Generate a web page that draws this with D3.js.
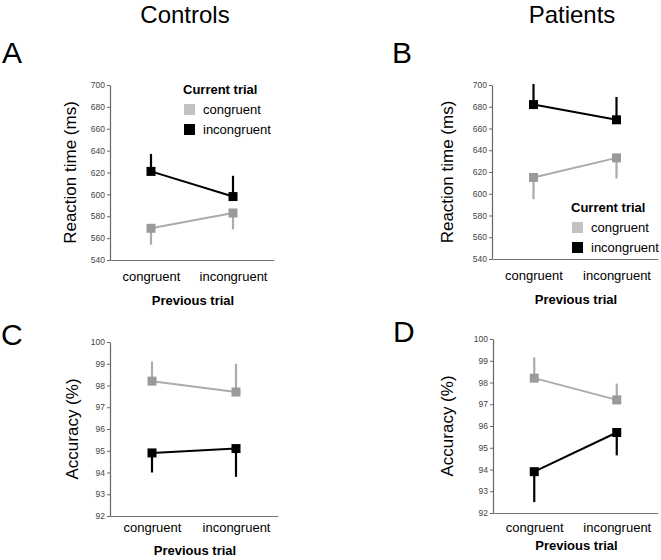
<!DOCTYPE html>
<html>
<head>
<meta charset="utf-8">
<script src="https://cdn.jsdelivr.net/npm/d3@7/dist/d3.min.js"></script>
<style>
  body { margin: 0; background: #fff; }
  svg { display: block; font-family: Arial, "Liberation Sans", sans-serif; }
</style>
</head>
<body>
<svg id="chart" width="661" height="560"></svg>
<script>
// ---------- DATA ----------
const previousTrial = ["congruent", "incongruent"];
const currentTrial = ["congruent", "incongruent"];

const rtTicks = [540, 560, 580, 600, 620, 640, 660, 680, 700];
const accTicks = [92, 93, 94, 95, 96, 97, 98, 99, 100];

// Controls, reaction time (ms)
const rtControlsCongruent = [569, 583];
const rtControlsCongruentErrEnd = [554, 568];
const rtControlsIncongruent = [621, 598];
const rtControlsIncongruentErrEnd = [637, 617];

// Patients, reaction time (ms)
const rtPatientsCongruent = [615, 633];
const rtPatientsCongruentErrEnd = [595, 614];
const rtPatientsIncongruent = [682, 668];
const rtPatientsIncongruentErrEnd = [701, 689];

// Controls, accuracy (%)
const accControlsCongruent = [98.2, 97.7];
const accControlsCongruentErrEnd = [99.1, 99.0];
const accControlsIncongruent = [94.9, 95.1];
const accControlsIncongruentErrEnd = [94.0, 93.8];

// Patients, accuracy (%)
const accPatientsCongruent = [98.2, 97.2];
const accPatientsCongruentErrEnd = [99.15, 97.95];
const accPatientsIncongruent = [93.9, 95.7];
const accPatientsIncongruentErrEnd = [92.5, 94.65];

// ---------- LAYOUT ----------
const svg = d3.select("#chart");
const GRAY_MARK = "#9a9a9a", GRAY_LINE = "#ababab", GRAY_LEG = "#c2c2c2", BLACK = "#000";

svg.append("text").attr("x", 185).attr("y", 23).attr("text-anchor", "middle")
  .attr("font-size", 24).text("Controls");
svg.append("text").attr("x", 572).attr("y", 23).attr("text-anchor", "middle")
  .attr("font-size", 24).text("Patients");

const panels = [
  { letter: "A", lx: 2, ly: 63, x0: 110, x1: 274, y0: 260, y1: 85, domain: [540, 700], ticks: rtTicks,
    ylabel: "Reaction time (ms)", ylx: 76, tickPad: 12, titleOff: 45,
    cong: rtControlsCongruent, congErr: rtControlsCongruentErrEnd,
    inc: rtControlsIncongruent, incErr: rtControlsIncongruentErrEnd,
    legend: { x: 183, y: 94 } },
  { letter: "B", lx: 392, ly: 63, x0: 492, x1: 658, y0: 259, y1: 85, domain: [540, 700], ticks: rtTicks,
    ylabel: "Reaction time (ms)", ylx: 453, tickPad: 12, titleOff: 45,
    cong: rtPatientsCongruent, congErr: rtPatientsCongruentErrEnd,
    inc: rtPatientsIncongruent, incErr: rtPatientsIncongruentErrEnd,
    legend: { x: 571, y: 212 } },
  { letter: "C", lx: 1, ly: 345, x0: 110, x1: 278, y0: 516, y1: 342, domain: [92, 100], ticks: accTicks,
    ylabel: "Accuracy (%)", ylx: 78, tickPad: 7, titleOff: 39,
    cong: accControlsCongruent, congErr: accControlsCongruentErrEnd,
    inc: accControlsIncongruent, incErr: accControlsIncongruentErrEnd },
  { letter: "D", lx: 393, ly: 342, x0: 493, x1: 658, y0: 513, y1: 339, domain: [92, 100], ticks: accTicks,
    ylabel: "Accuracy (%)", ylx: 453, tickPad: 10, titleOff: 37,
    cong: accPatientsCongruent, congErr: accPatientsCongruentErrEnd,
    inc: accPatientsIncongruent, incErr: accPatientsIncongruentErrEnd }
];

panels.forEach(p => {
  const x = d3.scalePoint().domain(previousTrial).range([p.x0, p.x1]).padding(0.5);
  const y = d3.scaleLinear().domain(p.domain).range([p.y0, p.y1]);

  svg.append("text").attr("x", p.lx).attr("y", p.ly).attr("font-size", 30).text(p.letter);

  // y axis
  const yAxis = svg.append("g").attr("transform", `translate(${p.x0},0)`)
    .call(d3.axisLeft(y).tickValues(p.ticks).tickSize(3).tickPadding(2).tickSizeOuter(0));
  yAxis.select(".domain").attr("stroke", "#666").attr("stroke-width", 1.2);
  yAxis.selectAll(".tick line").attr("stroke", "#666");
  yAxis.selectAll(".tick text").attr("font-size", 8.5).attr("fill", "#444")
    .attr("font-family", "Arial, 'Liberation Sans', sans-serif");

  // x axis
  const xAxis = svg.append("g").attr("transform", `translate(0,${p.y0})`)
    .call(d3.axisBottom(x).tickSize(0).tickPadding(p.tickPad).tickSizeOuter(0));
  xAxis.select(".domain").attr("stroke", "#777").attr("stroke-width", 1.2);
  xAxis.selectAll(".tick text").attr("font-size", 13).attr("fill", "#000")
    .attr("font-family", "Arial, 'Liberation Sans', sans-serif");

  svg.append("text").attr("x", (p.x0 + p.x1) / 2 + 1).attr("y", p.y0 + p.titleOff)
    .attr("text-anchor", "middle").attr("font-size", 13).attr("font-weight", "bold")
    .text("Previous trial");

  svg.append("text")
    .attr("transform", `translate(${p.ylx},${(p.y0 + p.y1) / 2}) rotate(-90)`)
    .attr("text-anchor", "middle").attr("font-size", 17).text(p.ylabel);

  const series = [
    { vals: p.cong, err: p.congErr, line: GRAY_LINE, mark: GRAY_MARK },
    { vals: p.inc, err: p.incErr, line: BLACK, mark: BLACK }
  ];
  series.forEach(s => {
    const pts = previousTrial.map((c, i) => ({ c, v: s.vals[i], e: s.err[i] }));
    svg.append("g").selectAll("line").data(pts).join("line")
      .attr("x1", d => x(d.c)).attr("x2", d => x(d.c))
      .attr("y1", d => y(d.v)).attr("y2", d => y(d.e))
      .attr("stroke", s.line).attr("stroke-width", 2.2);
    svg.append("path").datum(pts)
      .attr("d", d3.line().x(d => x(d.c)).y(d => y(d.v)))
      .attr("fill", "none").attr("stroke", s.line).attr("stroke-width", 2);
    svg.append("g").selectAll("rect").data(pts).join("rect")
      .attr("x", d => x(d.c) - 4.5).attr("y", d => y(d.v) - 4.5)
      .attr("width", 9).attr("height", 9).attr("fill", s.mark);
  });

  if (p.legend) {
    const g = svg.append("g").attr("transform", `translate(${p.legend.x},${p.legend.y})`);
    g.append("text").attr("x", 0).attr("y", 0).attr("font-size", 13).attr("font-weight", "bold")
      .text("Current trial");
    const cols = [GRAY_LEG, BLACK];
    currentTrial.forEach((c, i) => {
      g.append("rect").attr("x", 1).attr("y", 10 + i * 20).attr("width", 11).attr("height", 11)
        .attr("fill", cols[i]);
      g.append("text").attr("x", 20).attr("y", 20 + i * 20).attr("font-size", 13).text(c);
    });
  }
});
</script>
</body>
</html>
